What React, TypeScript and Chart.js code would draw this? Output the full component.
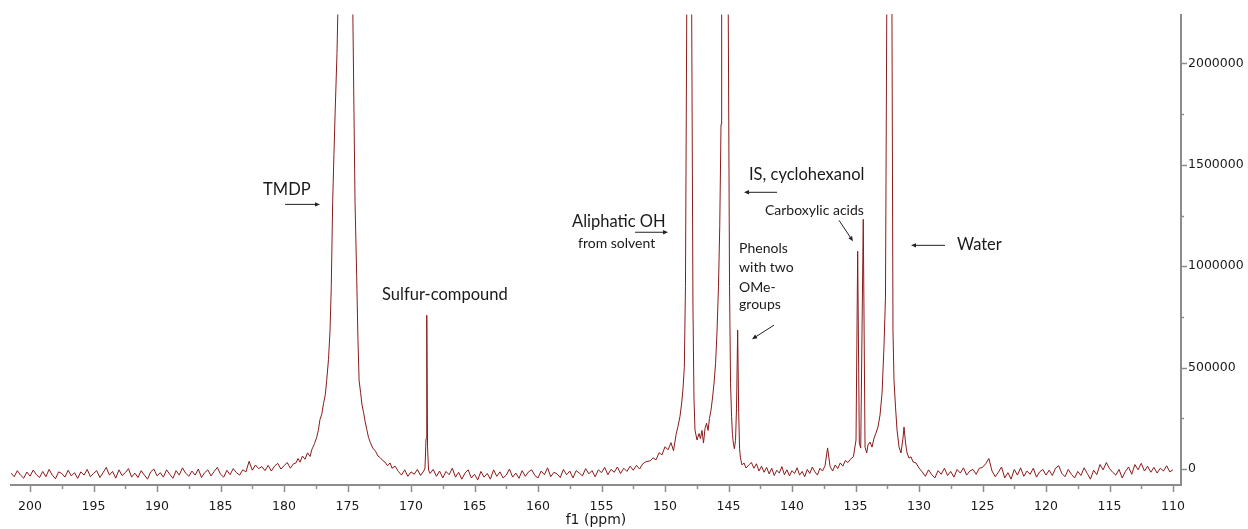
import React, { useEffect, useRef } from "react";
import { Chart, registerables } from "chart.js";

Chart.register(...registerables);

// ---------- axis ranges & ticks ----------
const PPM_MAX = 201.5; // left edge (axis reversed)
const PPM_MIN = 109.37; // right edge
const Y_MIN = -78816;
const Y_MAX = 2241330;

const xTickLabels = [200, 195, 190, 185, 180, 175, 170, 165, 160, 155, 150, 145, 140, 135, 130, 125, 120, 115, 110];
const xMinorTicks = [197.5, 192.5, 187.5, 182.5, 177.5, 172.5, 167.5, 162.5, 157.5, 152.5, 147.5, 142.5, 137.5, 132.5, 127.5, 122.5, 117.5, 112.5];
const yTickLabels = [0, 500000, 1000000, 1500000, 2000000];
const yMinorTicks = [250000, 750000, 1250000, 1750000];

// ---------- spectrum (intensities in thousands) ----------
// baseline stretches: [start ppm, end ppm] with evenly spaced readings
const noise1Range = [201.5, 179.25];
const noise1 = [
  -20, -38, -8, -30, -45, -15, -35, -5,
  -28, -42, -12, -38, -2, -30, -48, -14,
  -22, -40, -6, -34, -18, -46, -14, -30,
  -2, -38, -22, -8, -42, -18, 8, -30,
  -12, -45, -4, -32, -18, 2, -40, -20,
  -42, -8, -30, -50, -14, 0, -34, -18,
  -40, -4, -26, -46, -8, -30, 6, -20,
  -36, -10, -30, 0, -42, -18, -4, -34,
  -12, 8, -26, -40, -6, -28, 2, -18,
  -30, -4, -14, 38, -6, 20, 2, 12,
  -8, 18, -10, 14, 28, 0, 16, 32,
  4, 26,
];

const tmdpPpm = [
  179.06, 178.9, 178.74, 178.55, 178.35, 178.15, 177.95, 177.8, 177.72, 177.6, 177.44, 177.3, 177.17, 177.03,
  176.89, 176.75, 176.64, 176.5, 176.38, 176.28, 176.17, 176.07, 175.98, 175.83, 175.65, 175.47, 175.31,
  175.12, 174.92, 174.76, 174.59, 174.5, 174.41, 174.28, 174.18, 174.09, 173.97, 173.86, 173.74, 173.62,
  173.48, 173.35, 173.2, 173.02, 172.8, 172.6, 172.4, 172.2, 172.05, 171.85, 171.65, 171.5,
];
const tmdpK = [
  30, 52, 34, 64, 48, 80, 62, 98, 108, 126, 154, 190, 244, 270,
  324, 366, 438, 540, 680, 900, 1320, 1550, 1750, 2050, 2600, 3500, 5500,
  9000, 5500, 3500, 2300, 1800, 1320, 950, 640, 438, 376, 316, 280, 236,
  194, 156, 130, 104, 88, 64, 54, 40, 34, 16, 30, 4,
];

const noise2Range = [171.25, 169.0];
const noise2 = [14, -12, -30, -4, -36, -14, -26, -2, -32, -10];

const sulfurPpm = [168.9, 168.82, 168.76, 168.7, 168.62];
const sulfurK = [5, 150, 758, 110, -5];

const noise3Range = [168.5, 151.5];
const noise3 = [
  -22, -2, -36, -10, -44, -12, -28, 4,
  -40, -16, -50, -20, -4, -44, -26, -54,
  -12, -40, -22, -50, -4, -36, -14, -44,
  -30, 0, -40, -20, -46, -8, -36, -14,
  -4, -32, -44, -10, -28, 6, -38, -16,
  -24, -42, -2, -28, -10, -44, -8, -20,
  -34, 2, -24, -8, -38, -4, -18, 8,
  -28, -2, -16, 10, -22, 4, -12, 14,
  -6, 18, 0, 26, 36,
];

const ohIsPpm = [
  151.18, 150.94, 150.71, 150.47, 150.24, 150.0, 149.76, 149.53, 149.33, 149.13, 148.98, 148.82, 148.69,
  148.58, 148.48, 148.39, 148.29, 148.19, 148.11, 148.01, 147.9, 147.8, 147.72, 147.64, 147.48, 147.32,
  147.21, 147.09, 146.97, 146.85, 146.73, 146.61, 146.5, 146.38, 146.26, 146.14, 146.02, 145.91, 145.79,
  145.69, 145.59, 145.54, 145.43, 145.28, 145.12, 145.02, 144.92, 144.84, 144.76, 144.69, 144.62, 144.54,
  144.45, 144.37, 144.28, 144.2, 144.13, 144.06, 143.94, 143.78, 143.62,
];
const ohIsK = [
  40, 55, 45, 80, 70, 110, 95, 130, 90, 170, 210, 260, 325,
  400, 502, 900, 2240, 5000, 10000, 5000, 2240, 800, 350, 192, 143, 175,
  150, 190, 128, 200, 226, 190, 250, 290, 350, 424, 520, 670, 900,
  1200, 1700, 2240, 4000, 10000, 4000, 2240, 900, 420, 260, 170, 128, 100,
  140, 300, 685, 280, 100, 55, 20, 30, 5,
];

const noise4Range = [143.4, 135.4];
const noise4 = [
  20, 32, 4, 26, -10, 14, -16, 8,
  -24, 4, -32, -6, -20, 12, -28, -4,
  -34, -8, -22, 6, -30, -12, -38, -2,
  -22, 10, -14, -30, 4, -10, 16, 104,
  12, -10, 20, 2, 30, 14, 42, 32,
  48,
];

const acidWaterPpm = [
  135.17, 134.96, 134.83, 134.7, 134.59, 134.39, 134.25, 134.12, 134.02, 133.86, 133.7, 133.54, 133.39,
  133.23, 133.07, 132.91, 132.76, 132.64, 132.54, 132.44, 132.32, 132.2, 132.13, 132.05, 131.97, 131.85,
  131.73, 131.57, 131.42, 131.26, 131.18, 131.06, 130.94, 130.79, 130.63, 130.47, 130.24, 130.0,
];
const acidWaterK = [
  60, 143, 1074, 128, 103, 1231, 108, 79, 118, 133, 108, 153, 177,
  207, 266, 374, 601, 847, 2240, 4500, 9000, 4500, 2240, 685, 438, 305,
  192, 108, 79, 153, 207, 128, 79, 54, 60, 35, 30, 5,
];

const noise5Range = [129.75, 110.0];
const noise5 = [
  -14, -36, -4, -28, -44, -8, -26, 4,
  -32, -12, -40, -2, -20, 6, -30, -10,
  -2, -26, 4, 8, 26, 52, -10, -38,
  -16, 10, -44, -18, -50, -2, -30, 6,
  -36, -10, -26, 4, -40, -14, -2, -30,
  -6, -32, 4, 16, -22, -38, -2, -26,
  -44, -12, -32, 6, -22, -50, -6, -28,
  22, -4, 32, 2, -16, -30, -2, -44,
  -12, 10, -26, 22, -4, 28, -10, 14,
  -16, 8, -20, 4, -10, 16, -14, -4,
];

// ---------- annotations ----------
const labelTexts = ["TMDP", "Sulfur-compound", "Aliphatic OH", "from solvent", "IS, cyclohexanol", "Carboxylic acids", "Phenols", "with two", "OMe-", "groups", "Water"];
const labelPpm = [181.65, 172.28, 157.32, 156.85, 143.39, 142.13, 144.17, 144.17, 144.17, 144.17, 127.01];
const labelValue = [1379000, 862000, 1221600, 1113000, 1453000, 1275800, 1088600, 995000, 896500, 812800, 1108000];
const labelSize = [16.5, 16.5, 16.5, 14, 16.5, 14, 14, 14, 14, 14, 16.5];

const arrowFromPpm = [179.92, 152.36, 141.18, 136.3, 141.42, 127.95];
const arrowFromValue = [1305000, 1167500, 1364500, 1226600, 709300, 1103000];
const arrowToPpm = [177.17, 149.76, 143.78, 135.2, 143.15, 130.63];
const arrowToValue = [1305000, 1167500, 1364500, 1123000, 640400, 1103000];

type Pt = { x: number; y: number };

function stretch(range: number[], vals: number[]): Pt[] {
  const step = (range[0] - range[1]) / (vals.length - 1);
  return vals.map((v, i) => ({ x: range[0] - i * step, y: v * 1000 }));
}
function pairs(ppm: number[], vals: number[]): Pt[] {
  const n = Math.min(ppm.length, vals.length);
  const out: Pt[] = [];
  for (let i = 0; i < n; i++) out.push({ x: ppm[i], y: vals[i] * 1000 });
  return out;
}

const AXIS_COLOR = "#8c8c8c";
const TEXT_COLOR = "#1a1a1a";

const overlayPlugin = {
  id: "nmrOverlay",
  afterDraw(chart: any) {
    const ctx = chart.ctx as CanvasRenderingContext2D;
    const xs = chart.scales.x;
    const ys = chart.scales.y;
    const area = chart.chartArea;
    ctx.save();
    // tick marks
    ctx.strokeStyle = AXIS_COLOR;
    ctx.lineWidth = 1.5;
    const xt = (v: number, len: number) => {
      const px = Math.round(xs.getPixelForValue(v)) + 0.5;
      ctx.beginPath();
      ctx.moveTo(px, area.bottom);
      ctx.lineTo(px, area.bottom + len);
      ctx.stroke();
    };
    xTickLabels.forEach((v) => xt(v, 7));
    xMinorTicks.forEach((v) => xt(v, 4));
    const yt = (v: number, len: number) => {
      const py = Math.round(ys.getPixelForValue(v)) + 0.5;
      ctx.beginPath();
      ctx.moveTo(area.right, py);
      ctx.lineTo(area.right + len, py);
      ctx.stroke();
    };
    yTickLabels.forEach((v) => yt(v, 6));
    yMinorTicks.forEach((v) => yt(v, 3));

    // labels
    ctx.fillStyle = TEXT_COLOR;
    ctx.textAlign = "left";
    ctx.textBaseline = "middle";
    labelTexts.forEach((t, i) => {
      ctx.font = `${labelSize[i]}px Lato, "Open Sans", sans-serif`;
      ctx.fillText(t, xs.getPixelForValue(labelPpm[i]), ys.getPixelForValue(labelValue[i]));
    });

    // arrows
    ctx.strokeStyle = "#222";
    ctx.fillStyle = "#222";
    ctx.lineWidth = 1;
    arrowFromPpm.forEach((_, i) => {
      const x1 = xs.getPixelForValue(arrowFromPpm[i]);
      const y1 = ys.getPixelForValue(arrowFromValue[i]);
      const x2 = xs.getPixelForValue(arrowToPpm[i]);
      const y2 = ys.getPixelForValue(arrowToValue[i]);
      const ang = Math.atan2(y2 - y1, x2 - x1);
      const hl = 5;
      const hw = 2.2;
      ctx.beginPath();
      ctx.moveTo(x1, y1);
      ctx.lineTo(x2 - Math.cos(ang) * hl * 0.8, y2 - Math.sin(ang) * hl * 0.8);
      ctx.stroke();
      ctx.beginPath();
      ctx.moveTo(x2, y2);
      ctx.lineTo(x2 - Math.cos(ang) * hl - Math.sin(ang) * hw, y2 - Math.sin(ang) * hl + Math.cos(ang) * hw);
      ctx.lineTo(x2 - Math.cos(ang) * hl + Math.sin(ang) * hw, y2 - Math.sin(ang) * hl - Math.cos(ang) * hw);
      ctx.closePath();
      ctx.fill();
    });
    ctx.restore();
  },
};

export default function App() {
  const ref = useRef<HTMLCanvasElement | null>(null);

  useEffect(() => {
    if (!ref.current) return;
    const points: Pt[] = [
      ...stretch(noise1Range, noise1),
      ...pairs(tmdpPpm, tmdpK),
      ...stretch(noise2Range, noise2),
      ...pairs(sulfurPpm, sulfurK),
      ...stretch(noise3Range, noise3),
      ...pairs(ohIsPpm, ohIsK),
      ...stretch(noise4Range, noise4),
      ...pairs(acidWaterPpm, acidWaterK),
      ...stretch(noise5Range, noise5),
    ];
    const tickFont = { family: '"DejaVu Sans", Verdana, sans-serif', size: 12.5 };
    const chart = new Chart(ref.current, {
      type: "line",
      data: {
        datasets: [
          {
            data: points as any,
            borderColor: "#8b1a1a",
            borderWidth: 1,
            pointRadius: 0,
            tension: 0,
            fill: false,
          },
        ],
      },
      options: {
        animation: false,
        responsive: false,
        maintainAspectRatio: false,
        parsing: false,
        layout: { padding: { top: 14, left: 11, right: 0, bottom: 0 } },
        plugins: { legend: { display: false }, tooltip: { enabled: false } },
        scales: {
          x: {
            type: "linear",
            reverse: true,
            min: PPM_MIN,
            max: PPM_MAX,
            position: "bottom",
            afterBuildTicks: (s: any) => {
              s.ticks = xTickLabels.map((v) => ({ value: v }));
            },
            afterFit: (s: any) => {
              s.height = 44;
            },
            ticks: {
              autoSkip: false,
              maxRotation: 0,
              padding: 14,
              font: tickFont,
              color: TEXT_COLOR,
              callback: (v: any) => String(v),
            },
            grid: { drawOnChartArea: false, drawTicks: false },
            border: { display: true, color: AXIS_COLOR, width: 2 },
            title: {
              display: true,
              text: "f1 (ppm)",
              font: { family: '"DejaVu Sans", Verdana, sans-serif', size: 14 },
              color: TEXT_COLOR,
              padding: { top: 0, bottom: 0 },
            },
          },
          y: {
            type: "linear",
            position: "right",
            min: Y_MIN,
            max: Y_MAX,
            afterBuildTicks: (s: any) => {
              s.ticks = yTickLabels.map((v) => ({ value: v }));
            },
            afterFit: (s: any) => {
              s.width = 67;
            },
            ticks: {
              padding: 7,
              font: tickFont,
              color: TEXT_COLOR,
              callback: (v: any) => String(v),
            },
            grid: { drawOnChartArea: false, drawTicks: false },
            border: { display: true, color: AXIS_COLOR, width: 2 },
          },
        },
      },
      plugins: [overlayPlugin],
    });
    return () => chart.destroy();
  }, []);

  return (
    <div style={{ position: "absolute", left: 0, top: 0, width: 1248, height: 529, background: "#fff" }}>
      <canvas ref={ref} width={1248} height={529} style={{ display: "block", width: 1248, height: 529 }} />
    </div>
  );
}
